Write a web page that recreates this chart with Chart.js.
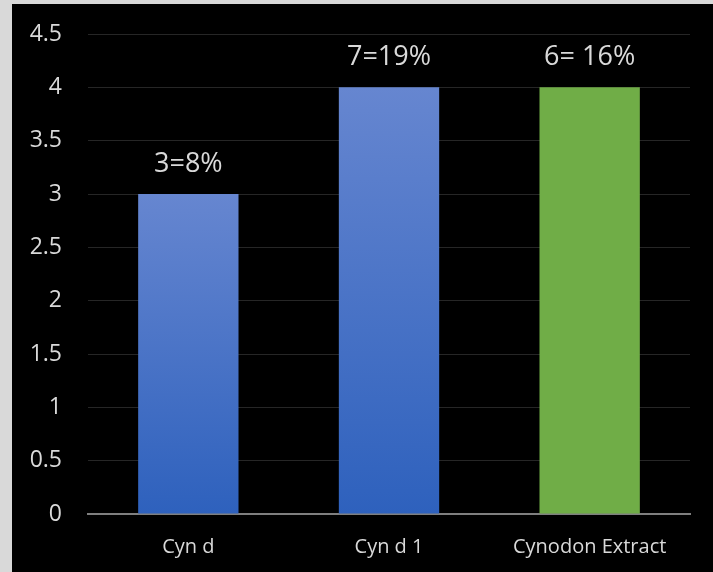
<!DOCTYPE html>
<html>
<head>
<meta charset="utf-8">
<script src="https://cdn.jsdelivr.net/npm/chart.js@4.4.1/dist/chart.umd.min.js"></script>
<style>
  html, body { margin: 0; padding: 0; background: #d9d9d9; }
  #frame { position: absolute; left: 12px; top: 4px; width: 701px; height: 568px; background: #000; }
</style>
</head>
<body>
<div id="frame"><canvas id="myChart" width="701" height="568"></canvas></div>
<script>
// categories, bar heights and the text printed above each bar
var categories = ["Cyn d", "Cyn d 1", "Cynodon Extract"];
var values = [3, 4, 4];
var barLabels = ["3=8%", "7=19%", "6= 16%"];
var yTicks = [0, 0.5, 1, 1.5, 2, 2.5, 3, 3.5, 4, 4.5];

var textColor = "#d9d9d9";
var fontFamily = "'Open Sans', 'DejaVu Sans', sans-serif";

// blue bars fade from light at the top to darker at the base, the last one is flat green
function barColor(context) {
  var chart = context.chart;
  var i = context.dataIndex;
  if (i === 2) return "#70ad47";
  var yScale = chart.scales.y;
  if (!chart.chartArea || !yScale) return "#4472c4";
  var top = yScale.getPixelForValue(values[i]);
  var bottom = yScale.getPixelForValue(0);
  var g = chart.ctx.createLinearGradient(0, top, 0, bottom);
  g.addColorStop(0, "#6686d0");
  g.addColorStop(1, "#2e61bd");
  return g;
}

// text above each bar
var topLabels = {
  id: "topLabels",
  afterDatasetsDraw: function (chart) {
    var ctx = chart.ctx;
    var meta = chart.getDatasetMeta(0);
    ctx.save();
    ctx.fillStyle = textColor;
    ctx.font = "27px " + fontFamily;
    ctx.textAlign = "center";
    ctx.textBaseline = "alphabetic";
    meta.data.forEach(function (bar, i) {
      ctx.fillText(barLabels[i], bar.x, bar.y - 22);
    });
    ctx.restore();
  }
};

var ctx = document.getElementById("myChart").getContext("2d");
var chart = new Chart(ctx, {
  type: "bar",
  data: {
    labels: categories,
    datasets: [
      {
        data: values,
        backgroundColor: barColor,
        borderWidth: 0,
        categoryPercentage: 1,
        barPercentage: 0.5,
      },
    ],
  },
  options: {
    responsive: false,
    animation: false,
    events: [],
    layout: { padding: { left: 12, right: 23, top: 30, bottom: 0 } },
    plugins: {
      legend: { display: false },
      tooltip: { enabled: false },
    },
    scales: {
      x: {
        grid: { display: false },
        border: { display: true, color: "#7f7f7f", width: 2 },
        ticks: {
          color: textColor,
          font: { family: fontFamily, size: 20 },
          padding: 13,
          maxRotation: 0,
        },
        afterFit: function (scale) {
          scale.height = 58;
        },
      },
      y: {
        min: 0,
        max: 4.5,
        afterBuildTicks: function (scale) {
          scale.ticks = yTicks.map(function (v) { return { value: v }; });
        },
        grid: { color: "#262626", lineWidth: 1, drawTicks: false },
        border: { display: false },
        ticks: {
          color: textColor,
          font: { family: fontFamily, size: 23 },
          padding: 26,
          callback: function (value) {
            return String(value);
          },
        },
        afterFit: function (scale) {
          scale.width = 64;
          scale.paddingTop = 0;
          scale.paddingBottom = 0;
        },
      },
    },
  },
  plugins: [topLabels],
});
</script>
</body>
</html>
